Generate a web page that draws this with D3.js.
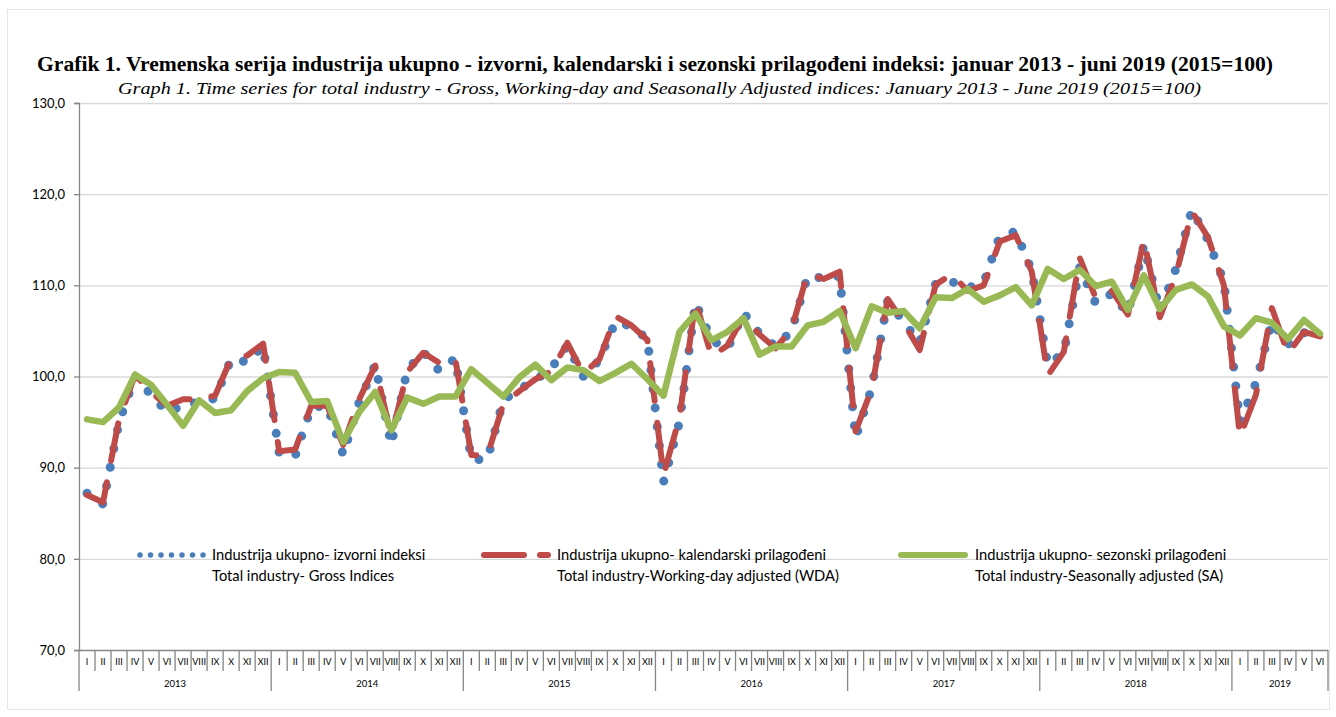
<!DOCTYPE html>
<html>
<head>
<meta charset="utf-8">
<script src="https://cdn.jsdelivr.net/npm/d3@7"></script>
<style>
html,body{margin:0;padding:0;background:#fff;}
svg{display:block;}
</style>
</head>
<body>
<svg id="chart" width="1336" height="717"></svg>
<script>
// ---------- DATA ----------
const monthLabels = ["I","II","III","IV","V","VI","VII","VIII","IX","X","XI","XII"];
const years = ["2013","2014","2015","2016","2017","2018","2019"];
const monthsPerYear = [12,12,12,12,12,12,6];
const yTicks = [70,80,90,100,110,120,130];

// Industrija ukupno - izvorni indeksi (Gross)
const gross = [
  87.2, 86.0, 95.0, 100.0, 98.0, 96.1, 96.8, 97.2, 97.6, 101.9, 101.6, 103.3,
  91.6, 91.3, 96.6, 96.8, 91.4, 97.2, 101.3, 92.5, 100.7, 102.7, 100.6, 102.0,
  90.9, 90.9, 97.4, 98.6, 99.6, 100.9, 103.4, 100.0, 101.8, 106.0, 105.5, 104.1,
  88.4, 95.0, 108.1, 104.0, 103.0, 107.0, 104.7, 103.3, 105.0, 111.0, 110.8, 111.0,
  93.3, 98.7, 108.3, 106.0, 103.7, 110.2, 110.4, 109.7, 110.3, 115.4, 115.9, 111.6,
  101.3, 102.6, 112.0, 108.0, 109.1, 106.9, 114.4, 107.2, 111.8, 118.3, 115.0, 110.4,
  95.0, 99.3, 106.0, 103.5, 104.8, 104.5
];
// Industrija ukupno - kalendarski prilagođeni (WDA)
const wda = [
  87.0, 86.2, 95.3, 100.2, 98.3, 96.8, 97.5, 97.5, 97.9, 102.0, 102.3, 103.6,
  91.8, 92.0, 96.8, 96.8, 92.5, 97.5, 101.2, 93.4, 100.5, 102.6, 101.5, 101.9,
  91.4, 91.3, 97.0, 98.4, 99.7, 100.6, 103.7, 100.3, 101.9, 106.6, 105.6, 104.0,
  89.2, 95.5, 108.3, 102.2, 103.4, 106.6, 104.6, 103.1, 105.2, 111.3, 110.7, 111.5,
  94.0, 98.6, 108.5, 105.9, 102.9, 110.1, 111.2, 109.4, 110.0, 114.8, 115.5, 111.5,
  100.1, 102.7, 113.0, 108.6, 109.4, 106.8, 115.0, 106.5, 111.1, 118.1, 115.3, 110.0,
  93.4, 98.0, 107.5, 102.5, 104.9, 104.4
];
// Industrija ukupno - sezonski prilagođeni (SA)
const sa = [
  95.3, 95.0, 96.6, 100.2, 99.1, 96.9, 94.6, 97.4, 96.0, 96.3, 98.4, 99.8,
  100.5, 100.4, 97.2, 97.3, 92.8, 96.1, 98.3, 94.1, 97.7, 97.0, 97.8, 97.8,
  100.8, 99.3, 97.8, 99.9, 101.3, 99.6, 101.0, 100.7, 99.5, 100.4, 101.4, 99.7,
  97.9, 104.9, 106.9, 104.0, 104.9, 106.4, 102.4, 103.3, 103.3, 105.6, 106.0, 107.2,
  103.1, 107.7, 107.0, 107.2, 105.3, 108.7, 108.6, 109.6, 108.2, 108.9, 109.8, 107.8,
  111.8, 110.7, 111.7, 109.9, 110.4, 107.3, 111.1, 107.4, 109.5, 110.1, 108.8, 105.5,
  104.5, 106.4, 105.9, 104.1, 106.2, 104.7
];

const titleText = "Grafik 1. Vremenska serija industrija ukupno - izvorni, kalendarski i sezonski prilagođeni indeksi: januar 2013 - juni 2019 (2015=100)";
const subtitleText = "Graph 1. Time series for total industry - Gross, Working-day and Seasonally Adjusted indices: January 2013 - June 2019 (2015=100)";
const legendItems = [
  {key:"gross", l1:"Industrija ukupno- izvorni indeksi", l2:"Total industry- Gross Indices"},
  {key:"wda",   l1:"Industrija ukupno- kalendarski prilagođeni", l2:"Total industry-Working-day adjusted (WDA)"},
  {key:"sa",    l1:"Industrija ukupno- sezonski prilagođeni", l2:"Total industry-Seasonally adjusted (SA)"}
];

// ---------- LAYOUT ----------
const svg = d3.select("#chart");
const L = 79, R = 1328, T = 103, B = 650;
const N = gross.length;
const sansFont = "Lato, 'Open Sans', sans-serif";
const serifFont = "'Liberation Serif', 'DejaVu Serif', serif";

const x = d3.scaleLinear().domain([0, N]).range([L, R]);
const y = d3.scaleLinear().domain([70, 130]).range([B, T]);
const xc = i => x(i + 0.5);

// border
svg.append("rect").attr("x", 7.5).attr("y", 9.5).attr("width", 1322).attr("height", 700)
  .attr("fill", "none").attr("stroke", "#e6e6e6").attr("stroke-width", 1);

// title
svg.append("text").attr("x", 37).attr("y", 71).text(titleText)
  .attr("font-family", serifFont).attr("font-weight", "bold").attr("font-size", 20)
  .attr("textLength", 1236).attr("lengthAdjust", "spacingAndGlyphs").attr("fill", "#000");
svg.append("text").attr("x", 118).attr("y", 94).text(subtitleText)
  .attr("font-family", serifFont).attr("font-style", "italic").attr("font-size", 17.5)
  .attr("textLength", 1083).attr("lengthAdjust", "spacingAndGlyphs").attr("fill", "#000");

// gridlines
svg.append("g").selectAll("line").data(yTicks.filter(d => d > 70)).join("line")
  .attr("x1", L).attr("x2", R).attr("y1", d => y(d) + 0.5).attr("y2", d => y(d) + 0.5)
  .attr("stroke", "#d9d9d9").attr("stroke-width", 1.3);

// y axis
const yAxis = svg.append("g").attr("transform", `translate(${L},0)`)
  .call(d3.axisLeft(y).tickValues(yTicks).tickSize(5).tickPadding(9)
    .tickFormat(d => d3.format(".1f")(d).replace(".", ",")));
yAxis.select(".domain").attr("stroke", "#868686").attr("stroke-width", 1.3);
yAxis.selectAll(".tick line").attr("stroke", "#868686").attr("stroke-width", 1.3);
yAxis.selectAll(".tick text").attr("font-family", sansFont).attr("font-size", 13).attr("fill", "#000");

// x axis (categories)
const xa = svg.append("g");
xa.append("line").attr("x1", L).attr("x2", R).attr("y1", B + 0.5).attr("y2", B + 0.5)
  .attr("stroke", "#868686").attr("stroke-width", 1.3);
const bounds = d3.range(N + 1);
let yearStarts = [0];
monthsPerYear.forEach((m, k) => yearStarts.push(yearStarts[k] + m));
xa.selectAll("line.sep").data(bounds).join("line").attr("class", "sep")
  .attr("x1", d => x(d)).attr("x2", d => x(d))
  .attr("y1", B).attr("y2", d => yearStarts.includes(d) ? 691 : 671)
  .attr("stroke", "#868686").attr("stroke-width", 1.3);
xa.selectAll("text.m").data(d3.range(N)).join("text").attr("class", "m")
  .attr("x", d => xc(d)).attr("y", 665).attr("text-anchor", "middle")
  .attr("font-family", sansFont).attr("font-size", 9).attr("fill", "#000")
  .text(d => monthLabels[d % 12]);
xa.selectAll("text.yr").data(years).join("text").attr("class", "yr")
  .attr("x", (d, k) => (x(yearStarts[k]) + x(yearStarts[k + 1])) / 2).attr("y", 687)
  .attr("text-anchor", "middle").attr("font-family", sansFont).attr("font-size", 9.5)
  .attr("fill", "#000").text(d => d);

// series
const line = d3.line().x((d, i) => xc(i)).y(d => y(d)).curve(d3.curveLinear);
const styles = {
  gross: {color: "#4a7ebb", width: 9, dash: "0 19", cap: "round"},
  wda:   {color: "#be4b48", width: 6, dash: "38 22", cap: "round"},
  sa:    {color: "#98b954", width: 6.5, dash: null, cap: "round"}
};
const series = {gross, wda, sa};
["gross", "wda", "sa"].forEach(k => {
  const s = styles[k];
  svg.append("path").datum(series[k]).attr("d", line)
    .attr("fill", "none").attr("stroke", s.color).attr("stroke-width", s.width)
    .attr("stroke-linecap", s.cap).attr("stroke-linejoin", "round")
    .attr("stroke-dasharray", s.dash);
});

// legend
const legX = [{lx1: 140, lx2: 205, tx: 212}, {lx1: 484, lx2: 548, tx: 557}, {lx1: 901, lx2: 965, tx: 975}];
const legDash = {gross: "0 10.5", wda: "40 16", sa: null};
const legW = {gross: 5.5, wda: 6, sa: 6};
const legFont = 14.7;
const lg = svg.append("g");
legendItems.forEach((it, k) => {
  const p = legX[k], s = styles[it.key];
  lg.append("line").attr("x1", p.lx1).attr("x2", p.lx2).attr("y1", 555).attr("y2", 555)
    .attr("stroke", s.color).attr("stroke-width", legW[it.key]).attr("stroke-linecap", "round")
    .attr("stroke-dasharray", legDash[it.key]);
  lg.append("text").attr("x", p.tx).attr("y", 560).text(it.l1)
    .attr("font-family", sansFont).attr("font-size", legFont).attr("fill", "#000");
  lg.append("text").attr("x", p.tx).attr("y", 581).text(it.l2)
    .attr("font-family", sansFont).attr("font-size", legFont).attr("fill", "#000");
});
</script>
</body>
</html>
